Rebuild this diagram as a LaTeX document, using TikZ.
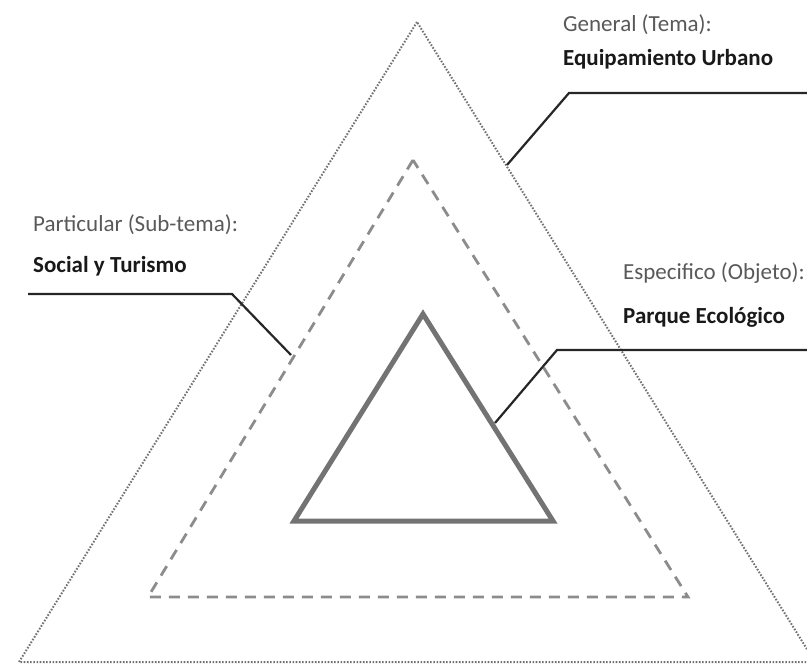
\documentclass[tikz,border=0pt]{standalone}
\usepackage{fontspec}
\setmainfont{Carlito}
\begin{document}
\begin{tikzpicture}[x=1pt,y=-1pt,
  outertri/.style={draw=black!55,line width=2pt,dash pattern=on 1.6pt off 1.6pt},
  midtri/.style={draw=black!45,line width=2.8pt,dash pattern=on 11pt off 8pt},
  innertri/.style={draw=black!55,line width=5pt,line join=miter},
  leader/.style={draw=black!85,line width=2.2pt},
  lbl/.style={anchor=west,inner sep=0pt,text=black!65,font=\fontsize{23}{26}\selectfont},
  blbl/.style={anchor=west,inner sep=0pt,text=black!90,font=\fontsize{23}{26}\selectfont\bfseries}]
\useasboundingbox (0,0) rectangle (807,667);
\clip (0,0) rectangle (807,667);
% outer triangle
\coordinate (oA) at (417,22);
\coordinate (oB) at (19,662);
\coordinate (oC) at (815,662);
\draw[outertri] (oA) -- (oB) -- (oC) -- cycle;
% dashed triangle
\coordinate (mA) at (413,160);
\coordinate (mB) at (148,597);
\coordinate (mC) at (688,597);
\draw[midtri] (mA) -- (mB) -- (mC) -- cycle;
% inner triangle
\coordinate (iA) at (423,314);
\coordinate (iB) at (294,521);
\coordinate (iC) at (553,521);
\draw[innertri] (iA) -- (iB) -- (iC) -- cycle;
% labels
\node[lbl] (gen) at (563,25) {General (Tema):};
\node[blbl] (equ) at (563,59) {Equipamiento Urbano};
\node[lbl] (par) at (33,225) {Particular (Sub-tema):};
\node[blbl] (soc) at (33,266) {Social y Turismo};
\node[lbl] (esp) at (623,273) {Especifico (Objeto):};
\node[blbl] (pq) at (623,317) {Parque Ecológico};
% leaders
\coordinate (g1) at (507,165);
\coordinate (g2) at (569,93);
\coordinate (g3) at (807,93);
\draw[leader] (g1) -- (g2) -- (g3);
\coordinate (s1) at (28,294);
\coordinate (s2) at (232,294);
\coordinate (s3) at (291,355);
\draw[leader] (s1) -- (s2) -- (s3);
\coordinate (p1) at (495,423);
\coordinate (p2) at (557,350);
\coordinate (p3) at (807,350);
\draw[leader] (p1) -- (p2) -- (p3);
\end{tikzpicture}
\end{document}
